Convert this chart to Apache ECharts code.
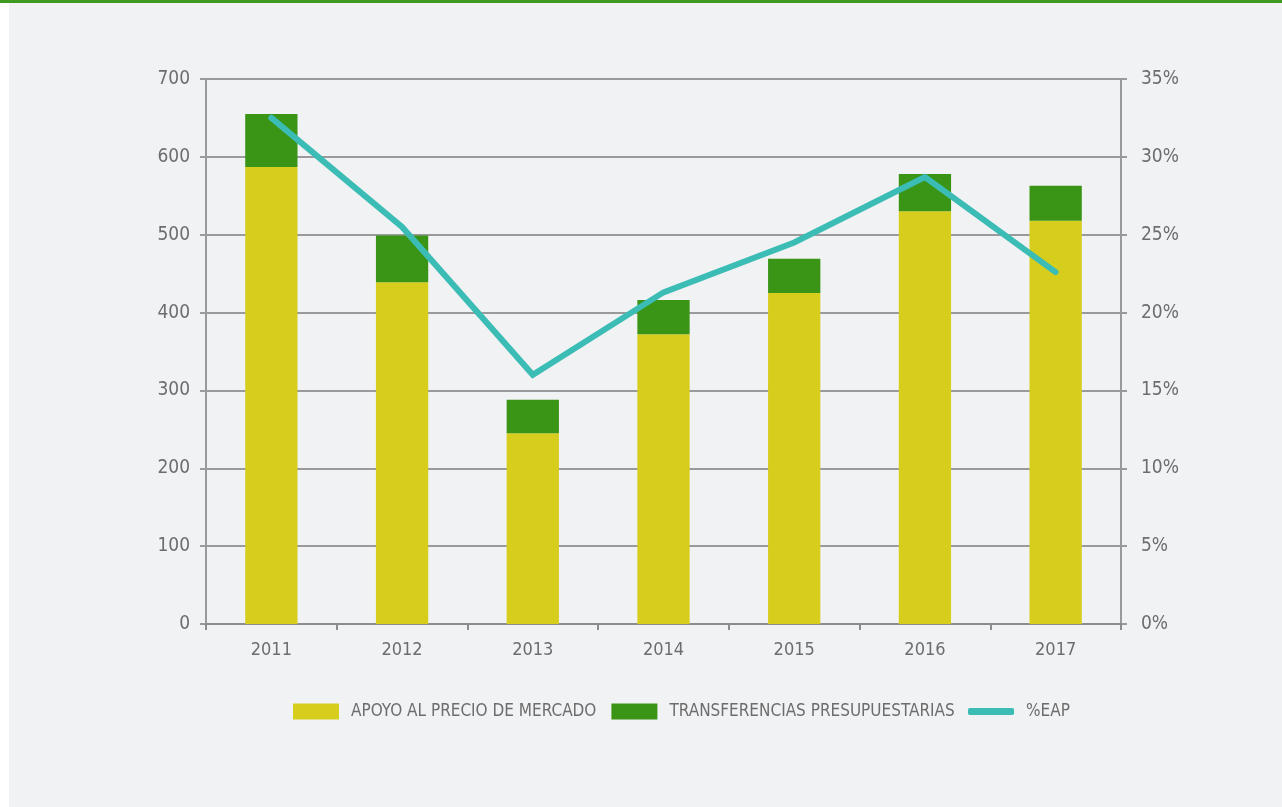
<!DOCTYPE html>
<html>
<head>
<meta charset="utf-8">
<script src="https://cdn.jsdelivr.net/npm/echarts@6/dist/echarts.min.js"></script>
<style>
html, body { margin: 0; padding: 0; background: #fff; }
#topline { position: absolute; left: 0; top: 0; width: 1282px; height: 3px; background: #3f9a1f; }
#chart { position: absolute; left: 9px; top: 3px; width: 1273px; height: 804px; background: #f1f2f4; }
</style>
</head>
<body>
<div id="topline"></div>
<div id="chart"></div>
<script>
var years = ['2011', '2012', '2013', '2014', '2015', '2016', '2017'];
var apoyoPrecio = [587, 439, 245, 372, 425, 530, 518];
var transferencias = [68, 60, 43, 44, 44, 48, 45];
var eap = [32.5, 25.5, 16.0, 21.3, 24.5, 28.7, 22.6];

var fontFam = "'DejaVu Sans Condensed', 'DejaVu Sans', sans-serif";
var legendText = { color: '#6d6d6d', fontSize: 17, fontFamily: fontFam, padding: [0, 0, 0, 7] };
var chart = echarts.init(document.getElementById('chart'));
chart.setOption({
  backgroundColor: '#f1f2f4',
  animation: false,
  grid: { left: 197, right: 161, top: 76, bottom: 183 },
  legend: [{
    bottom: 82,
    left: 279,
    itemWidth: 46,
    itemHeight: 16,
    itemGap: 15,
    icon: 'rect',
    textStyle: legendText,
    data: ['APOYO AL PRECIO DE MERCADO', 'TRANSFERENCIAS PRESUPUESTARIAS']
  }, {
    bottom: 82,
    left: 954,
    itemWidth: 46,
    itemHeight: 7,
    icon: 'roundRect',
    textStyle: legendText,
    data: ['%EAP']
  }],
  xAxis: {
    type: 'category',
    data: years,
    axisLine: { lineStyle: { color: '#8c8c8c', width: 2 } },
    axisTick: { show: true, length: 6, lineStyle: { color: '#8c8c8c', width: 2 } },
    axisLabel: { color: '#6d6d6d', fontSize: 18, fontFamily: fontFam, margin: 17 }
  },
  yAxis: [{
    type: 'value', min: 0, max: 700, interval: 100,
    axisLine: { show: true, lineStyle: { color: '#9a9a9a', width: 2 } },
    axisTick: { show: true, length: 6, lineStyle: { color: '#9a9a9a', width: 2 } },
    splitLine: { lineStyle: { color: '#9a9a9a', width: 2 } },
    axisLabel: { color: '#6d6d6d', fontSize: 19, fontFamily: fontFam, margin: 16 }
  }, {
    type: 'value', min: 0, max: 35, interval: 5,
    axisLine: { show: true, lineStyle: { color: '#9a9a9a', width: 2 } },
    axisTick: { show: true, length: 6, lineStyle: { color: '#9a9a9a', width: 2 } },
    splitLine: { show: false },
    axisLabel: { color: '#6d6d6d', fontSize: 19, fontFamily: fontFam, margin: 20, formatter: '{value}%' }
  }],
  series: [{
    name: 'APOYO AL PRECIO DE MERCADO',
    type: 'bar', stack: 'total', barWidth: '40%',
    itemStyle: { color: '#d6cd1c' },
    data: apoyoPrecio
  }, {
    name: 'TRANSFERENCIAS PRESUPUESTARIAS',
    type: 'bar', stack: 'total', barWidth: '40%',
    itemStyle: { color: '#3a9416' },
    data: transferencias
  }, {
    name: '%EAP',
    type: 'line', yAxisIndex: 1,
    showSymbol: false, symbol: 'none',
    lineStyle: { color: '#3bbcb5', width: 6, cap: 'round', join: 'miter' },
    itemStyle: { color: '#3bbcb5' },
    data: eap
  }]
});
</script>
</body>
</html>
